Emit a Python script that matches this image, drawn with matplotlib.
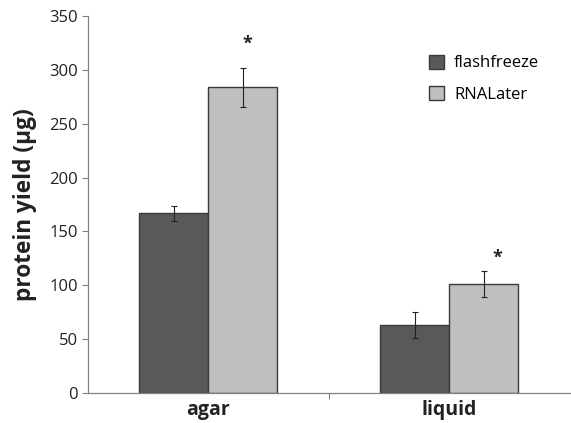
import matplotlib
matplotlib.use("Agg")
import matplotlib.pyplot as plt
import numpy as np

CATEGORIES = ["agar", "liquid"]
SERIES = ["flashfreeze", "RNALater"]
FLASHFREEZE = [167, 63]
FLASHFREEZE_ERR = [7, 12]
RNALATER = [284, 101]
RNALATER_ERR = [18, 12]
# significance markers (data coords) above the RNALater bars
ASTERISK_X = [0.16, 1.197]
ASTERISK_Y = [324, 126]
Y_TICKS = [0, 50, 100, 150, 200, 250, 300, 350]

plt.rcParams["font.family"] = ["Open Sans", "DejaVu Sans"]

fig = plt.figure(figsize=(5.71, 4.23), dpi=100)
ax = fig.add_axes([0.154, 0.071, 0.844, 0.891])

x = np.arange(len(CATEGORIES))
width = 0.286
edge = "#3a3a3a"
ax.bar(x - width / 2, FLASHFREEZE, width, color="#595959", edgecolor=edge,
       linewidth=1.0, label=SERIES[0], zorder=2)
ax.bar(x + width / 2, RNALATER, width, color="#bfbfbf", edgecolor=edge,
       linewidth=1.0, label=SERIES[1], zorder=2)
ax.errorbar(x - width / 2, FLASHFREEZE, yerr=FLASHFREEZE_ERR, fmt="none",
            ecolor="#222222", elinewidth=0.8, capsize=2, capthick=0.8, zorder=3)
ax.errorbar(x + width / 2, RNALATER, yerr=RNALATER_ERR, fmt="none",
            ecolor="#222222", elinewidth=0.8, capsize=2, capthick=0.8, zorder=3)

for ax_x, ax_y in zip(ASTERISK_X, ASTERISK_Y):
    ax.text(ax_x, ax_y, "*", ha="center", va="center", fontsize=13,
            fontweight="bold", color="#222222")

ax.set_xlim(-0.5, 1.5)
ax.set_ylim(0, 350)
ax.set_yticks(Y_TICKS)
ax.tick_params(axis="y", labelsize=12, length=4, width=0.8, color="#808080",
               pad=3, labelcolor="#222222")

# category boundaries get tick marks, labels sit at centers
ax.set_xticks([0.5])
ax.set_xticklabels([])
ax.set_xticks(x, minor=True)
ax.set_xticklabels(CATEGORIES, minor=True, fontsize=14, fontweight="bold")
ax.tick_params(axis="x", which="major", length=4, width=0.8, color="#808080")
ax.tick_params(axis="x", which="minor", length=0, pad=5, labelcolor="#222222")

ax.set_ylabel("protein yield (µg)", fontsize=16.3, fontweight="bold",
              color="#222222", labelpad=9)

for side in ["top", "right"]:
    ax.spines[side].set_visible(False)
for side in ["left", "bottom"]:
    ax.spines[side].set_color("#808080")
    ax.spines[side].set_linewidth(0.9)

leg = ax.legend(loc="upper left", bbox_to_anchor=(0.677, 0.937), frameon=False,
                fontsize=12, handlelength=0.9, handleheight=0.9,
                handletextpad=0.6, labelspacing=0.9)

fig.savefig("out.png", dpi=100)
